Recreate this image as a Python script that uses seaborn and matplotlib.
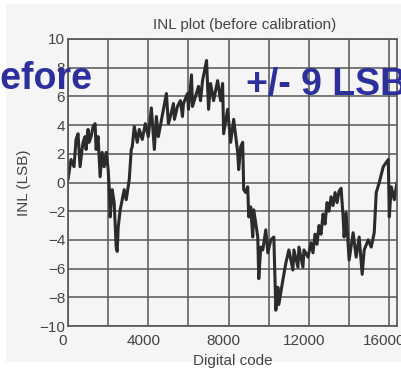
import numpy as np
import pandas as pd
import matplotlib
matplotlib.use("Agg")
import matplotlib.pyplot as plt
import matplotlib.transforms as mtransforms
from matplotlib.patches import Rectangle
import seaborn as sns

# INL curve of the converter before calibration (digital code -> INL in LSB)
codes = [0, 150, 300, 400, 500, 600, 700, 750, 850, 900, 1000, 1050, 1150, 1250,
         1350, 1400, 1500, 1600, 1700, 1800, 1900, 2000, 2050, 2100, 2200, 2300,
         2400, 2450, 2500, 2600, 2700, 2800, 2900, 3050, 3150, 3200, 3300, 3450,
         3550, 3700, 3850, 4000, 4150, 4300, 4400, 4500, 4750, 4900, 5000, 5100,
         5250, 5300, 5450, 5600, 5700, 5750, 5950, 6000, 6150, 6200, 6350, 6500,
         6600, 6700, 6900, 7000, 7100, 7250, 7450, 7600, 7700, 7750, 7950, 8100,
         8250, 8450, 8500, 8600, 8700, 8750, 8850, 8950, 9000, 9100, 9200, 9250,
         9450, 9500, 9600, 9700, 9850, 9950, 10100, 10250, 10350, 10450, 10500,
         10700, 10850, 11000, 11200, 11250, 11450, 11500, 11700, 11750, 11950,
         12100, 12200, 12300, 12400, 12500, 12600, 12700, 12800, 12900, 13000,
         13100, 13200, 13300, 13400, 13500, 13600,
         13700, 13750, 13850, 14000, 14200, 14350, 14500, 14650, 14750, 14950,
         15100, 15250, 15350, 15500, 15700, 15950, 16000, 16100, 16250, 16380]
inl = [0.2, 1.6, 1.1, 3.0, 3.4, 1.1, 2.3, 2.8, 3.2, 2.3, 3.7, 2.8, 3.2, 3.9,
       4.1, 2.3, 3.2, 0.4, 2.1, 1.1, 2.1, 0.9, -0.3, -2.4, -0.5, -1.4,
       -4.5, -4.8, -3.1, -1.9, -1.2, -0.5, -1.2, 0.2, 2.3, 2.5, 3.9, 2.8,
       3.7, 3.0, 4.1, 3.2, 5.2, 2.3, 4.6, 3.2, 5.1, 6.2, 4.1, 4.6,
       5.5, 4.4, 5.3, 5.7, 4.6, 5.5, 6.2, 5.1, 7.5, 5.3, 6.0, 6.7,
       5.7, 7.1, 8.5, 5.1, 6.9, 5.7, 7.1, 5.7, 6.9, 3.4, 5.1, 2.8,
       4.4, 2.1, 0.9, 2.5, 2.8, -0.5, -0.7, -0.3, -2.4, -1.7, -3.8, -1.9,
       -3.8, -6.7, -4.5, -4.7, -3.3, -4.9, -4.0, -3.8, -8.9, -7.3, -8.5,
       -6.8, -5.6, -4.7, -6.1, -4.7, -5.9, -4.5, -5.9, -4.7, -5.2,
       -4.2, -4.9, -3.6, -4.3, -3.0, -3.6, -2.2, -2.9, -1.4, -2.0,
       -1.0, -1.6, -0.7, -1.4, -0.6, -0.4,
       -2.4, -3.8, -2.1, -5.4, -3.5, -5.2, -3.8, -6.4, -4.7, -4.0,
       -4.5, -3.5, -0.7, 0.0, 1.1, 1.6, -2.4, -0.3, -1.2, 0.0]

x_ticks = [0, 4000, 8000, 12000, 16000]
y_ticks = [-10, -8, -6, -4, -2, 0, 2, 4, 6, 8, 10]

df = pd.DataFrame({"code": codes, "inl": inl})

sns.set_theme(style="white")
plt.rcParams["font.family"] = ["Liberation Sans", "DejaVu Sans"]

paper = "#f5f5f5"
ink = "#444444"
grid_c = "#555555"
blue = "#2d2f9c"

fig = plt.figure(figsize=(4.02, 3.69), dpi=100, facecolor="white")
fig.patches.append(Rectangle((6 / 402, 7 / 369), 1, 358 / 369,
                             transform=fig.transFigure, facecolor=paper,
                             edgecolor="none", zorder=-10))

ax = fig.add_axes([68 / 402, 43 / 369, 329 / 402, 287 / 369])
ax.set_facecolor(paper)

sns.lineplot(data=df, x="code", y="inl", ax=ax, sort=False, estimator=None,
             color="#2b2b2b", linewidth=2.2)

ax.set_xlim(0, 16384)
ax.set_ylim(-10, 10)
ax.set_xticks(x_ticks)
ax.set_xticks(np.arange(0, 16001, 2000), minor=True)
ax.set_yticks(y_ticks)
ax.grid(True, which="both", color=grid_c, linewidth=1.1)
ax.set_axisbelow(True)
for s in ax.spines.values():
    s.set_color(grid_c)
    s.set_linewidth(1.2)
ax.tick_params(axis="both", which="both", length=0, labelsize=11,
               labelcolor=ink)
ax.tick_params(axis="y", pad=2)
ax.tick_params(axis="x", pad=6)
shift = mtransforms.ScaledTranslation(-5 / 100, 0, fig.dpi_scale_trans)
for lbl in ax.get_xticklabels():
    lbl.set_transform(lbl.get_transform() + shift)

ax.set_xlabel("Digital code", fontsize=11, color=ink, labelpad=4)
ax.set_ylabel("INL (LSB)", fontsize=11, color=ink, labelpad=6)
fig.text(245 / 402, 1 - 25 / 369, "INL plot (before calibration)",
         ha="center", va="center", fontsize=11, color=ink)

fig.text(-27 / 402, 1 - 89 / 369, "Before", ha="left", va="baseline",
         fontsize=27, fontweight="bold", color=blue)
fig.text(246 / 402, 1 - 95 / 369, "+/- 9 LSB", ha="left", va="baseline",
         fontsize=27, fontweight="bold", color=blue)

fig.savefig("out.png", dpi=100, facecolor="white")
